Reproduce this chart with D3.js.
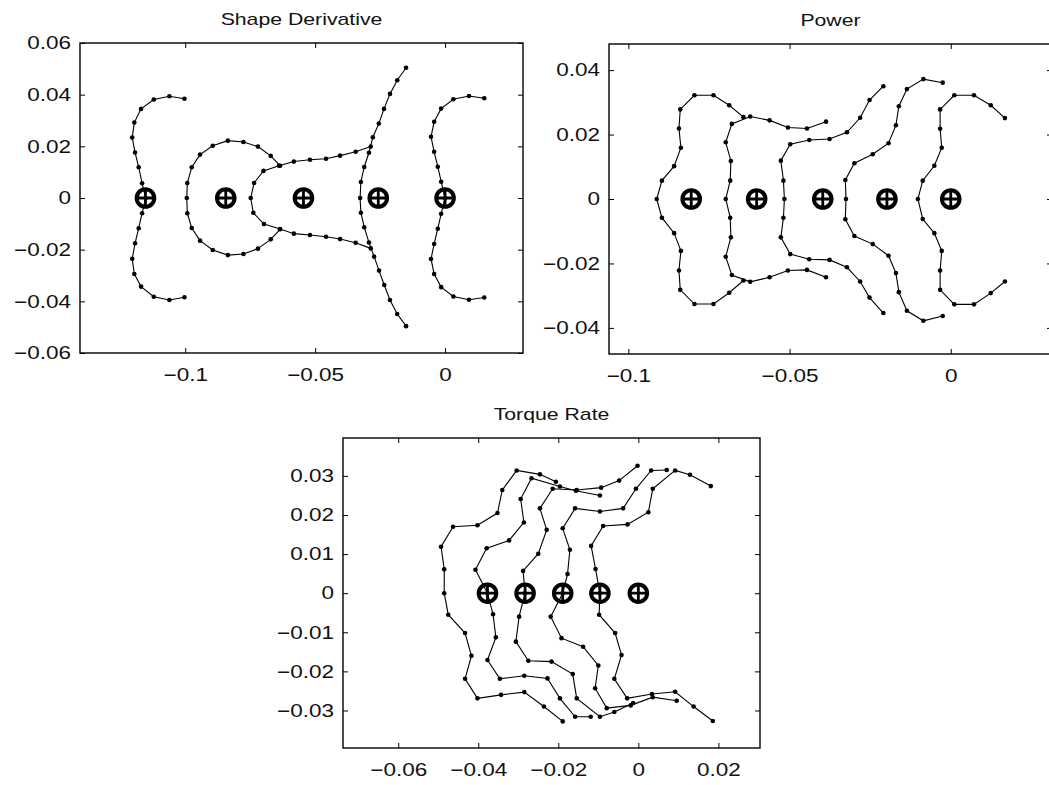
<!DOCTYPE html>
<html>
<head>
<meta charset="utf-8">
<script src="https://cdn.jsdelivr.net/npm/d3@7"></script>
<style>
  body { margin: 0; background: #fff; }
  svg text { font-family: "Liberation Sans", Arial, Helvetica, sans-serif; fill: #111; }
</style>
</head>
<body>
<svg id="fig" width="1049" height="785"></svg>
<script>
// ---------- Shape Derivative ----------
const shapeTitle = "Shape Derivative";
const shapeXTicks = [-0.1, -0.05, 0];
const shapeYTicks = [-0.06, -0.04, -0.02, 0, 0.02, 0.04, 0.06];
const shapeCenters = [-0.1153, -0.0844, -0.0545, -0.0257, 0];
const shapeCurves = [
  [[-0.1003,0.0384],[-0.1061,0.0394],[-0.1121,0.0381],[-0.1170,0.0345],[-0.1196,0.0292],[-0.1204,0.0234],[-0.1193,0.0176],[-0.1179,0.0119],[-0.1166,0.0057],[-0.1152,0],[-0.1166,-0.0059],[-0.1179,-0.0117],[-0.1193,-0.0175],[-0.1204,-0.0235],[-0.1196,-0.0294],[-0.1170,-0.0343],[-0.1121,-0.0382],[-0.1061,-0.0395],[-0.1003,-0.0384]],
  [[-0.0635,0.0125],[-0.0671,0.0163],[-0.0720,0.0199],[-0.0776,0.0217],[-0.0836,0.0222],[-0.0894,0.0202],[-0.0943,0.0168],[-0.0975,0.0119],[-0.0992,0.0058],[-0.0994,0],[-0.0992,-0.0059],[-0.0975,-0.0116],[-0.0943,-0.0165],[-0.0894,-0.0201],[-0.0836,-0.0221],[-0.0776,-0.0217],[-0.0720,-0.0196],[-0.0671,-0.0160],[-0.0635,-0.0121]],
  [[-0.0286,0.0199],[-0.0344,0.0179],[-0.0404,0.0164],[-0.0458,0.0152],[-0.0520,0.0148],[-0.0582,0.0141],[-0.0639,0.0125],[-0.0699,0.0105],[-0.0735,0.0058],[-0.0748,0],[-0.0738,-0.0057],[-0.0697,-0.0101],[-0.0635,-0.0120],[-0.0582,-0.0138],[-0.0520,-0.0143],[-0.0458,-0.0150],[-0.0404,-0.0159],[-0.0344,-0.0173],[-0.0286,-0.0195]],
  [[-0.0150,0.0504],[-0.0184,0.0456],[-0.0212,0.0403],[-0.0235,0.0345],[-0.0255,0.0288],[-0.0278,0.0235],[-0.0293,0.0175],[-0.0311,0.0120],[-0.0324,0.0062],[-0.0327,0],[-0.0324,-0.0057],[-0.0311,-0.0113],[-0.0293,-0.0172],[-0.0273,-0.0227],[-0.0254,-0.0281],[-0.0234,-0.0337],[-0.0212,-0.0395],[-0.0184,-0.0449],[-0.0150,-0.0496]],
  [[0.0151,0.0386],[0.0092,0.0395],[0.0032,0.0382],[-0.0015,0.0346],[-0.0042,0.0295],[-0.0054,0.0237],[-0.0042,0.0179],[-0.0028,0.0121],[-0.0015,0.0063],[0,0],[-0.0015,-0.0061],[-0.0028,-0.0119],[-0.0042,-0.0178],[-0.0054,-0.0236],[-0.0042,-0.0294],[-0.0015,-0.0345],[0.0032,-0.0381],[0.0092,-0.0394],[0.0151,-0.0385]]
];

// ---------- Power ----------
const powerTitle = "Power";
const powerXTicks = [-0.1, -0.05, 0];
const powerYTicks = [-0.04, -0.02, 0, 0.02, 0.04];
const powerCenters = [-0.0805, -0.0602, -0.0397, -0.0198, 0];
const powerCurves = [
  [[-0.0643,0.0254],[-0.0687,0.0291],[-0.0736,0.0322],[-0.0795,0.0322],[-0.0839,0.0278],[-0.0843,0.0219],[-0.0837,0.0159],[-0.0858,0.0102],[-0.0896,0.0057],[-0.0912,0],[-0.0896,-0.0058],[-0.0858,-0.0106],[-0.0837,-0.0161],[-0.0843,-0.0222],[-0.0839,-0.0282],[-0.0795,-0.0326],[-0.0736,-0.0326],[-0.0687,-0.0291],[-0.0643,-0.0253]],
  [[-0.0387,0.0240],[-0.0446,0.0219],[-0.0505,0.0222],[-0.0562,0.0244],[-0.0622,0.0256],[-0.0679,0.0233],[-0.0698,0.0176],[-0.0682,0.0118],[-0.0684,0.0057],[-0.0698,0],[-0.0684,-0.0058],[-0.0682,-0.0119],[-0.0698,-0.0179],[-0.0679,-0.0236],[-0.0622,-0.0257],[-0.0562,-0.0243],[-0.0505,-0.0222],[-0.0446,-0.0220],[-0.0387,-0.0243]],
  [[-0.0209,0.0350],[-0.0252,0.0307],[-0.0281,0.0252],[-0.0322,0.0207],[-0.0376,0.0186],[-0.0439,0.0183],[-0.0498,0.0170],[-0.0527,0.0119],[-0.0519,0.0057],[-0.0516,0],[-0.0519,-0.0058],[-0.0527,-0.0119],[-0.0498,-0.0171],[-0.0439,-0.0187],[-0.0376,-0.0189],[-0.0322,-0.0212],[-0.0281,-0.0256],[-0.0252,-0.0306],[-0.0209,-0.0354]],
  [[-0.0025,0.0361],[-0.0085,0.0372],[-0.0136,0.0341],[-0.0161,0.0288],[-0.0170,0.0229],[-0.0193,0.0173],[-0.0242,0.0139],[-0.0299,0.0111],[-0.0327,0.0059],[-0.0325,0],[-0.0327,-0.0063],[-0.0299,-0.0115],[-0.0242,-0.0140],[-0.0193,-0.0176],[-0.0170,-0.0230],[-0.0161,-0.0289],[-0.0136,-0.0347],[-0.0085,-0.0378],[-0.0025,-0.0363]],
  [[0.0168,0.0251],[0.0124,0.0291],[0.0072,0.0322],[0.0011,0.0322],[-0.0033,0.0278],[-0.0033,0.0218],[-0.0028,0.0159],[-0.0051,0.0103],[-0.0087,0.0057],[-0.0102,0],[-0.0087,-0.0062],[-0.0051,-0.0106],[-0.0028,-0.0161],[-0.0033,-0.0222],[-0.0033,-0.0282],[0.0011,-0.0327],[0.0072,-0.0327],[0.0124,-0.0292],[0.0168,-0.0256]]
];

// ---------- Torque Rate ----------
const torqueTitle = "Torque Rate";
const torqueXTicks = [-0.06, -0.04, -0.02, 0, 0.02];
const torqueYTicks = [-0.03, -0.02, -0.01, 0, 0.01, 0.02, 0.03];
const torqueCenters = [-0.0377, -0.0283, -0.0189, -0.0096, 0];
const torqueCurves = [
  [[-0.0206,0.0285],[-0.0246,0.0304],[-0.0304,0.0314],[-0.0340,0.0264],[-0.0352,0.0205],[-0.0402,0.0174],[-0.0463,0.0170],[-0.0493,0.0119],[-0.0485,0.0061],[-0.0485,0],[-0.0475,-0.0055],[-0.0433,-0.0102],[-0.0417,-0.0160],[-0.0433,-0.0219],[-0.0402,-0.0269],[-0.0343,-0.0260],[-0.0285,-0.0253],[-0.0236,-0.0290],[-0.0189,-0.0328]],
  [[-0.0096,0.0250],[-0.0156,0.0262],[-0.0196,0.0273],[-0.0267,0.0294],[-0.0294,0.0241],[-0.0286,0.0181],[-0.0323,0.0135],[-0.0379,0.0115],[-0.0407,0.0060],[-0.0377,0],[-0.0363,-0.0054],[-0.0356,-0.0113],[-0.0377,-0.0171],[-0.0346,-0.0219],[-0.0285,-0.0211],[-0.0227,-0.0218],[-0.0196,-0.0269],[-0.0158,-0.0316],[-0.0119,-0.0316]],
  [[-0.0002,0.0326],[-0.0048,0.0288],[-0.0093,0.0270],[-0.0154,0.0264],[-0.0214,0.0267],[-0.0246,0.0217],[-0.0229,0.0162],[-0.0250,0.0101],[-0.0288,0.0057],[-0.0283,0],[-0.0298,-0.0060],[-0.0306,-0.0124],[-0.0275,-0.0173],[-0.0217,-0.0175],[-0.0164,-0.0207],[-0.0154,-0.0269],[-0.0096,-0.0316],[-0.0060,-0.0304],[-0.0013,-0.0281]],
  [[0.0071,0.0315],[0.0032,0.0314],[-0.0006,0.0267],[-0.0038,0.0217],[-0.0096,0.0209],[-0.0158,0.0217],[-0.0189,0.0166],[-0.0171,0.0111],[-0.0177,0.0049],[-0.0189,0],[-0.0219,-0.0060],[-0.0192,-0.0115],[-0.0138,-0.0137],[-0.0100,-0.0185],[-0.0108,-0.0243],[-0.0079,-0.0294],[-0.0019,-0.0287],[0.0036,-0.0266],[0.0096,-0.0275]],
  [[0.0181,0.0274],[0.0129,0.0303],[0.0092,0.0314],[0.0036,0.0267],[0.0025,0.0207],[-0.0027,0.0176],[-0.0088,0.0172],[-0.0118,0.0121],[-0.0107,0.0062],[-0.0096,0],[-0.0098,-0.0055],[-0.0058,-0.0102],[-0.0042,-0.0158],[-0.0060,-0.0219],[-0.0028,-0.0269],[0.0034,-0.0258],[0.0092,-0.0252],[0.0138,-0.0290],[0.0186,-0.0327]]
];

// ---------- layout (pixels) ----------
const panels = [
  { title: shapeTitle, curves: shapeCurves, centers: shapeCenters, xTicks: shapeXTicks, yTicks: shapeYTicks,
    left: 80, right: 523, top: 43, bottom: 353, xDomain: [-0.1405, 0.0300], yDomain: [-0.06, 0.06] },
  { title: powerTitle, curves: powerCurves, centers: powerCenters, xTicks: powerXTicks, yTicks: powerYTicks,
    left: 609, right: 1052, top: 44, bottom: 354, xDomain: [-0.1060, 0.0314], yDomain: [-0.0481, 0.0481] },
  { title: torqueTitle, curves: torqueCurves, centers: torqueCenters, xTicks: torqueXTicks, yTicks: torqueYTicks,
    left: 343, right: 760, top: 438, bottom: 748, xDomain: [-0.0738, 0.0304], yDomain: [-0.0396, 0.0397] }
];

const svg = d3.select("#fig");
const TICK = 5;
const FONT = 18;
const STRETCH = 1.25;
const fmt = v => v === 0 ? "0" : String(+v.toFixed(4)).replace("-", "\u2212");

function styleAxis(sel) {
  sel.attr("font-size", null).attr("font-family", null);
  sel.select(".domain").remove();
  sel.selectAll(".tick line").attr("stroke", "#000").attr("stroke-width", 1);
}

panels.forEach(p => {
  const g = svg.append("g");
  const x = d3.scaleLinear().domain(p.xDomain).range([p.left, p.right]);
  const y = d3.scaleLinear().domain(p.yDomain).range([p.bottom, p.top]);

  // inward ticks on all four sides
  const bx = g.append("g").attr("transform", `translate(0,${p.bottom})`)
    .call(d3.axisBottom(x).tickValues(p.xTicks).tickFormat(fmt).tickSizeInner(-TICK).tickSizeOuter(0).tickPadding(15));
  styleAxis(bx);
  bx.selectAll("text").attr("font-size", FONT).attr("transform", `scale(${STRETCH},1)`);

  const tx = g.append("g").attr("transform", `translate(0,${p.top})`)
    .call(d3.axisTop(x).tickValues(p.xTicks).tickFormat("").tickSizeInner(-TICK).tickSizeOuter(0));
  styleAxis(tx);

  const ly = g.append("g").attr("transform", `translate(${p.left},0)`)
    .call(d3.axisLeft(y).tickValues(p.yTicks).tickFormat(fmt).tickSizeInner(-TICK).tickSizeOuter(0).tickPadding(9));
  styleAxis(ly);
  ly.selectAll("text").attr("font-size", FONT).attr("x", 0)
    .attr("transform", `translate(-9,0) scale(${STRETCH},1)`);

  const ry = g.append("g").attr("transform", `translate(${p.right},0)`)
    .call(d3.axisRight(y).tickValues(p.yTicks).tickFormat("").tickSizeInner(-TICK).tickSizeOuter(0));
  styleAxis(ry);

  // frame
  g.append("rect")
    .attr("x", p.left).attr("y", p.top)
    .attr("width", p.right - p.left).attr("height", p.bottom - p.top)
    .attr("fill", "none").attr("stroke", "#000").attr("stroke-width", 1.4);

  // title
  g.append("text")
    .attr("transform", `translate(${(p.left + p.right) / 2},${p.top - 18}) scale(${STRETCH},1)`)
    .attr("text-anchor", "middle").attr("font-size", 17)
    .text(p.title);

  // curves with point markers
  const line = d3.line().x(d => x(d[0])).y(d => y(d[1]));
  p.curves.forEach(c => {
    g.append("path").attr("d", line(c)).attr("fill", "none")
      .attr("stroke", "#000").attr("stroke-width", 1.1);
    g.selectAll(null).data(c).enter().append("circle")
      .attr("cx", d => x(d[0])).attr("cy", d => y(d[1])).attr("r", 2.3).attr("fill", "#000");
  });

  // circled-plus markers on the y = 0 axis
  const R = 8.8;
  const m = g.selectAll(null).data(p.centers).enter().append("g")
    .attr("transform", d => `translate(${x(d)},${y(0)})`);
  m.append("circle").attr("r", R).attr("fill", "none").attr("stroke", "#000").attr("stroke-width", 4);
  m.append("path").attr("d", `M${-R},0H${R}M0,${-R}V${R}`).attr("stroke", "#000").attr("stroke-width", 2.8);
});
</script>
</body>
</html>
